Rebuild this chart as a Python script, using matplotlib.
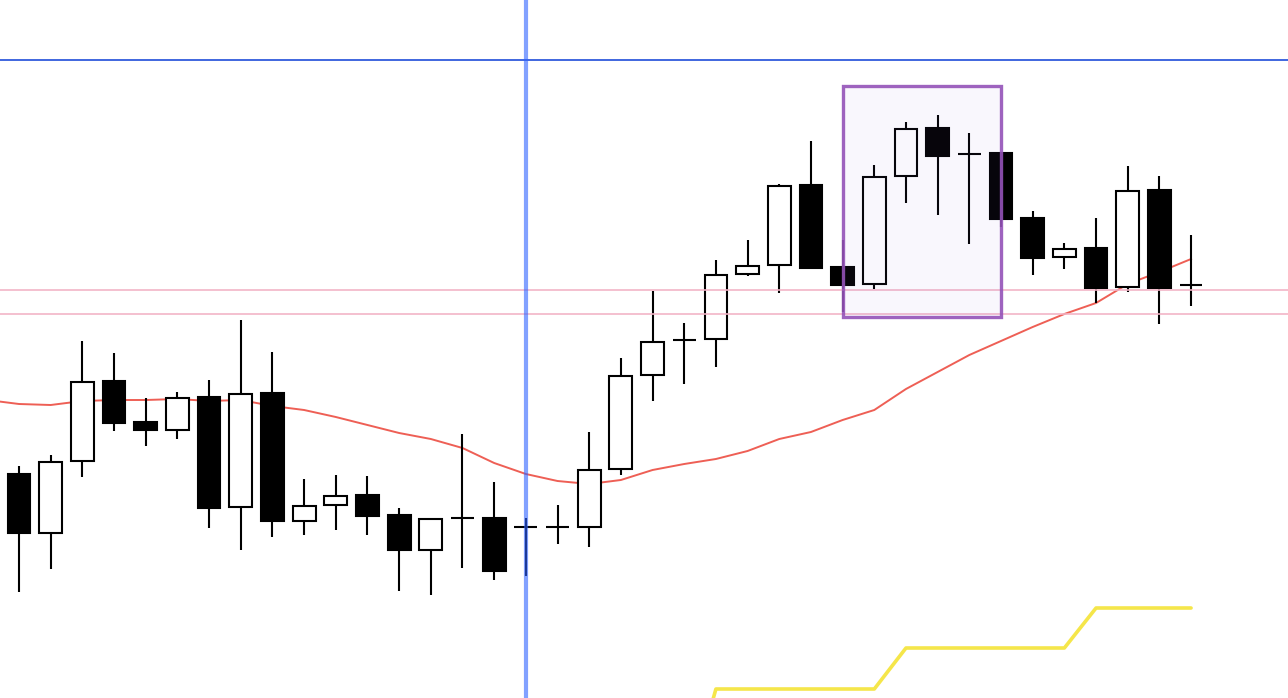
import matplotlib.pyplot as plt
from matplotlib.patches import Rectangle

# candle data (open, high, low, close), one entry per bar
opens  = [224, 165, 237, 317, 276, 268, 301, 191, 305, 177, 193, 203, 183, 148, 180, 180, 171, 171, 171,
          229, 323, 358, 359, 424, 433, 513, 431, 414, 522, 570, 544, 545, 480, 441, 450, 411, 508, 413]
highs  = [232, 243, 357, 345, 300, 306, 318, 378, 346, 219, 223, 222, 190, 179, 264, 216, 180, 193, 266,
          340, 407, 375, 438, 458, 514, 557, 458, 533, 576, 583, 565, 545, 487, 455, 480, 532, 522, 463]
lows   = [106, 129, 221, 267, 252, 259, 170, 148, 161, 163, 168, 163, 107, 103, 130, 118, 122, 154, 151,
          223, 297, 314, 331, 422, 405, 429, 386, 409, 495, 483, 454, 471, 423, 429, 395, 406, 374, 392]
closes = [165, 236, 316, 275, 268, 300, 190, 304, 177, 192, 202, 182, 148, 179, 180, 127, 171, 171, 228,
          322, 356, 358, 423, 432, 512, 430, 413, 521, 569, 542, 544, 479, 440, 449, 410, 507, 410, 413]

# moving average, starts one bar before the first candle
ma_start = -1
ma_vals = [298, 294, 293, 297, 298, 298, 299, 297, 298, 292, 288, 281, 273, 265, 259, 250, 235, 224, 217,
           214, 218, 228, 234, 239, 247, 259, 266, 278, 288, 309, 326, 343, 357, 371, 384, 395, 414, 426, 439]

# yellow step line (bar index -> level)
step_idx = [21, 22, 27, 28, 33, 34, 37]
step_vals = [-104, 9, 9, 50, 50, 90, 90]

blue_level = 638
pink_levels = [408, 384]
vline_bar = 16
box_bars = (26, 31)
box_levels = (381, 612)

fig = plt.figure(figsize=(12.88, 6.98), dpi=100)
ax = fig.add_axes([0, 0, 1, 1])
ax.set_xlim(-0.6, 40.06)
ax.set_ylim(0, 698)
ax.axis('off')

# MA line below candles
ma_x = list(range(ma_start, ma_start + len(ma_vals)))
ax.plot(ma_x, ma_vals, color='#ee5f55', lw=1.4, zorder=1)

# candles
width = 0.72
for i in range(len(opens)):
    o, h, l, c = opens[i], highs[i], lows[i], closes[i]
    ax.vlines(i, l, h, color='black', lw=1.5, zorder=2)
    face = 'white' if c >= o else 'black'
    ax.bar(i, c - o, bottom=o, width=width, color=face, edgecolor='black', lw=1.5, zorder=3)

ax.plot(step_idx, step_vals, color='#f5e64a', lw=2.6, zorder=2, solid_capstyle='round')

for lv in pink_levels:
    ax.axhline(lv, color='#f2b3c6', lw=1.3, alpha=0.9, zorder=4)
ax.axhline(blue_level, color='#3f66df', lw=1.4, zorder=4)
ax.axvline(vline_bar, color='#2f62ff', lw=3.0, alpha=0.6, zorder=5)

box = Rectangle((box_bars[0], box_levels[0]), box_bars[1] - box_bars[0], box_levels[1] - box_levels[0],
                facecolor=(0.55, 0.45, 0.9, 0.05), edgecolor=(0.58, 0.32, 0.72, 0.9), lw=2.4, zorder=6)
ax.add_patch(box)

fig.savefig('out.png', dpi=100)
